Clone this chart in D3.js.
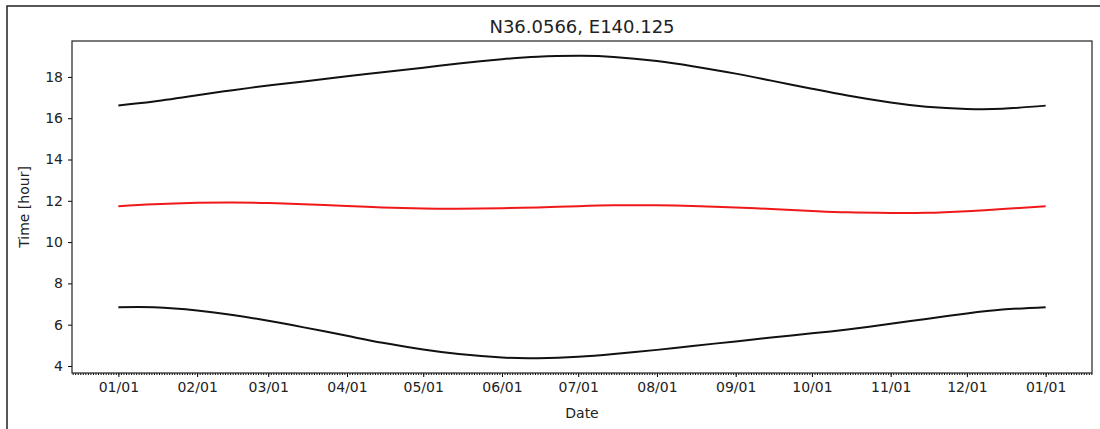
<!DOCTYPE html>
<html>
<head>
<meta charset="utf-8">
<script src="https://cdn.jsdelivr.net/npm/d3@7"></script>
<style>
  body { margin: 0; background: #fff; }
  svg { display: block; font-family: "DejaVu Sans", sans-serif; }
</style>
</head>
<body>
<div id="chart"></div>
<script>
// dates (1st and 15th of each month, plus next Jan 1)
var dates = ["2021-01-01","2021-01-15","2021-02-01","2021-02-15","2021-03-01","2021-03-15",
             "2021-04-01","2021-04-15","2021-05-01","2021-05-15","2021-06-01","2021-06-15",
             "2021-07-01","2021-07-15","2021-08-01","2021-08-15","2021-09-01","2021-09-15",
             "2021-10-01","2021-10-15","2021-11-01","2021-11-15","2021-12-01","2021-12-15",
             "2022-01-01"];
// hours (JST)
var sunrise = [6.84,6.84,6.69,6.47,6.19,5.87,5.46,5.12,4.80,4.58,4.41,4.38,
               4.45,4.58,4.78,4.97,5.19,5.38,5.58,5.77,6.04,6.28,6.54,6.73,6.85];
var noon    = [11.74,11.83,11.90,11.92,11.89,11.83,11.75,11.68,11.63,11.62,11.64,11.68,
               11.74,11.78,11.78,11.75,11.68,11.60,11.51,11.44,11.41,11.42,11.50,11.60,11.74];
var sunset  = [16.62,16.81,17.11,17.36,17.58,17.78,18.03,18.23,18.45,18.65,18.86,18.98,
               19.02,18.97,18.77,18.52,18.16,17.82,17.43,17.10,16.76,16.56,16.45,16.46,16.61];
var yTicks = [4, 6, 8, 10, 12, 14, 16, 18];
var title = "N36.0566, E140.125";

var width = 1100, height = 429;
var margin = {left: 72, top: 41, right: 8, bottom: 56};

var parse = d3.timeParse("%Y-%m-%d");
var xs = dates.map(parse);

var svg = d3.select("#chart").append("svg")
    .attr("width", width)
    .attr("height", height);

// figure frame
svg.append("rect")
    .attr("x", 7).attr("y", 6)
    .attr("width", width + 10).attr("height", height + 10)
    .attr("fill", "none").attr("stroke", "#222").attr("stroke-width", 1.5);

// 5% margin like matplotlib
var t0 = xs[0], t1 = xs[xs.length - 1];
var pad = (t1 - t0) * 0.05;
var x = d3.scaleTime()
    .domain([new Date(+t0 - pad), new Date(+t1 + pad)])
    .range([margin.left, width - margin.right]);
var y = d3.scaleLinear()
    .domain([3.66, 19.74])
    .range([height - margin.bottom, margin.top]);

var g = svg.append("g");

// minor ticks (daily)
g.append("g")
    .attr("transform", "translate(0," + (height - margin.bottom) + ")")
    .call(d3.axisBottom(x).ticks(d3.timeDay.every(1)).tickSize(2).tickFormat(""))
    .call(function(a){ a.select(".domain").remove(); });

// major x ticks
var xAxis = g.append("g")
    .attr("transform", "translate(0," + (height - margin.bottom) + ")")
    .call(d3.axisBottom(x).ticks(d3.timeMonth.every(1)).tickSize(4).tickPadding(5)
        .tickFormat(d3.timeFormat("%m/%d")));
xAxis.select(".domain").remove();
xAxis.selectAll("text").attr("font-size", 14).attr("font-family", "DejaVu Sans").attr("fill", "#222");

var yAxis = g.append("g")
    .attr("transform", "translate(" + margin.left + ",0)")
    .call(d3.axisLeft(y).tickValues(yTicks).tickSize(4).tickPadding(5));
yAxis.select(".domain").remove();
yAxis.selectAll("text").attr("font-size", 14).attr("font-family", "DejaVu Sans").attr("fill", "#222");

// plot frame
svg.append("rect")
    .attr("x", margin.left).attr("y", margin.top)
    .attr("width", width - margin.right - margin.left)
    .attr("height", height - margin.bottom - margin.top)
    .attr("fill", "none").attr("stroke", "#222").attr("stroke-width", 1.2);

var line = d3.line()
    .x(function(d, i){ return x(xs[i]); })
    .y(function(d){ return y(d); })
    .curve(d3.curveNatural);

svg.append("path").datum(sunset).attr("d", line)
    .attr("fill", "none").attr("stroke", "#111").attr("stroke-width", 2);
svg.append("path").datum(noon).attr("d", line)
    .attr("fill", "none").attr("stroke", "#f01818").attr("stroke-width", 2);
svg.append("path").datum(sunrise).attr("d", line)
    .attr("fill", "none").attr("stroke", "#111").attr("stroke-width", 2);

svg.append("text")
    .attr("x", (margin.left + width - margin.right) / 2).attr("y", 33)
    .attr("text-anchor", "middle").attr("font-size", 18).attr("fill", "#222")
    .text(title);

svg.append("text")
    .attr("x", (margin.left + width - margin.right) / 2).attr("y", 418)
    .attr("text-anchor", "middle").attr("font-size", 14).attr("fill", "#222")
    .text("Date");

svg.append("text")
    .attr("transform", "translate(29," + ((margin.top + height - margin.bottom) / 2) + ") rotate(-90)")
    .attr("text-anchor", "middle").attr("font-size", 14).attr("fill", "#222")
    .text("Time [hour]");
</script>
</body>
</html>
